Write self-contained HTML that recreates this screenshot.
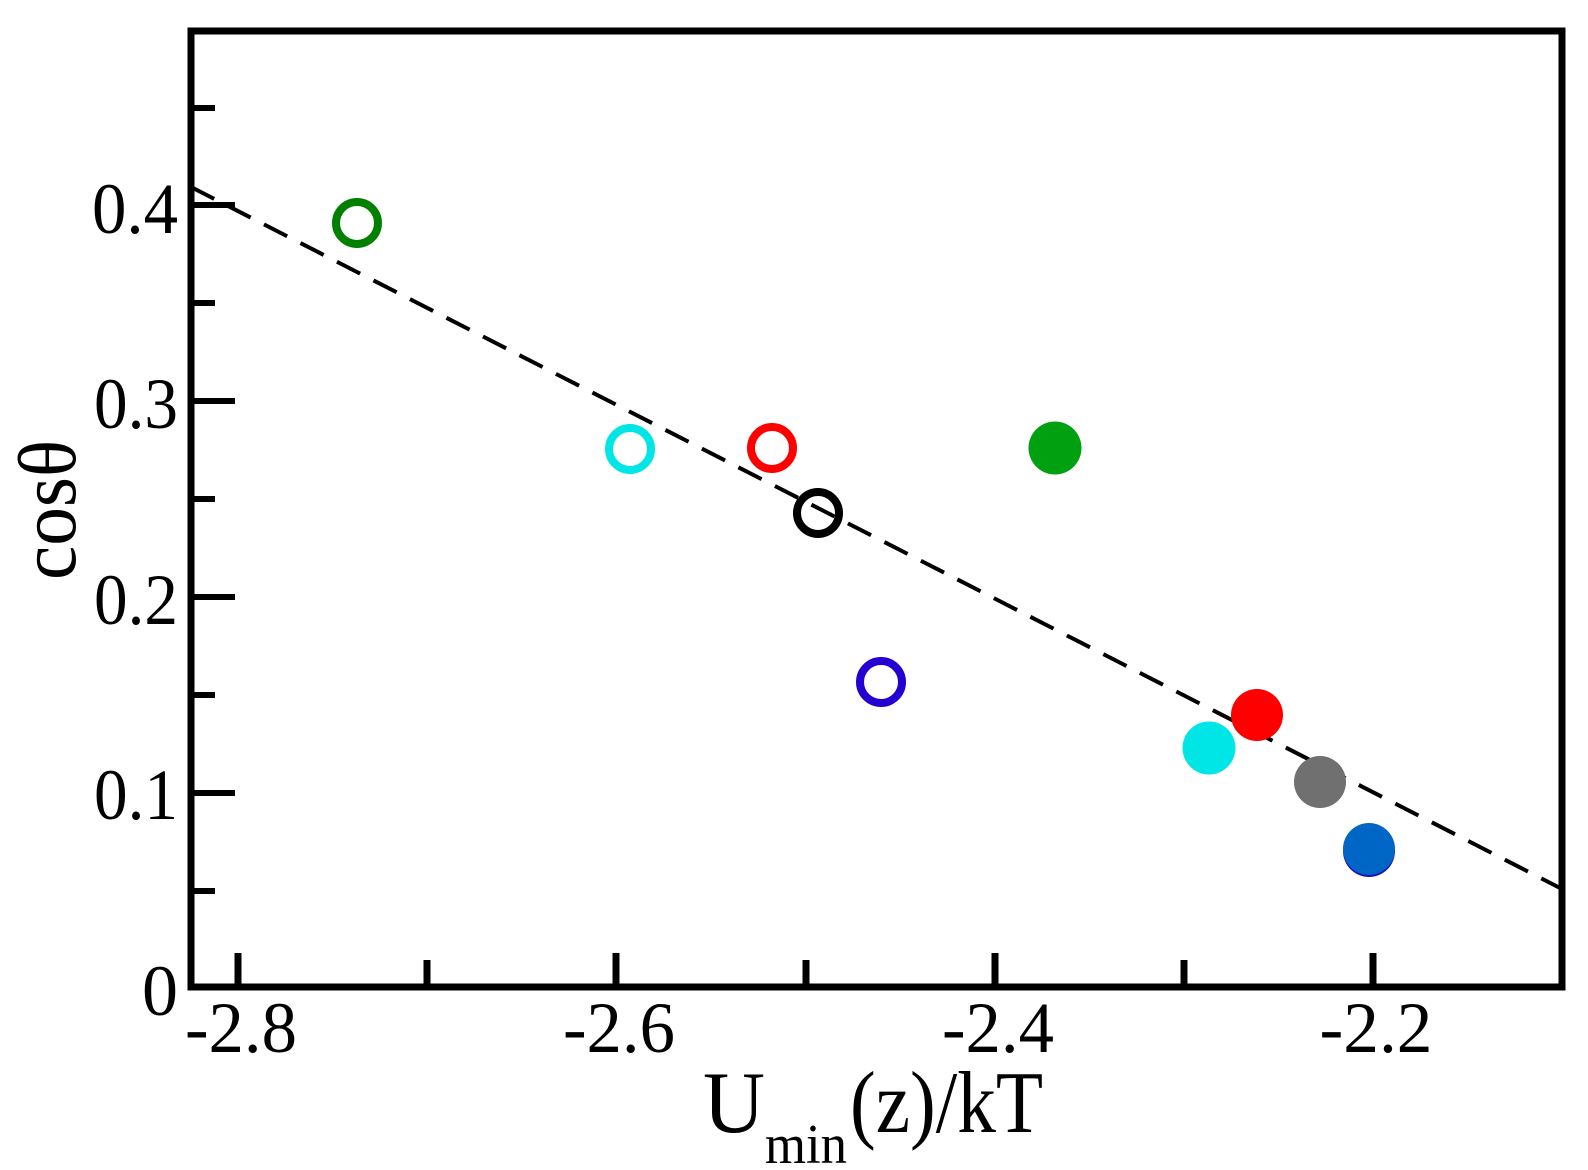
<!DOCTYPE html>
<html>
<head>
<meta charset="utf-8">
<style>
html,body{margin:0;padding:0;background:#fff;}
svg{display:block;}
text{font-family:"Liberation Serif","DejaVu Serif",serif;fill:#000;}
</style>
</head>
<body>
<svg width="1588" height="1170" viewBox="0 0 1588 1170" xmlns="http://www.w3.org/2000/svg">
  <rect x="0" y="0" width="1588" height="1170" fill="#fff"/>

  <!-- dashed fit line -->
  <line x1="191" y1="187" x2="1562" y2="889" stroke="#000" stroke-width="4" stroke-dasharray="26 15"/>

  <!-- y ticks (inside) -->
  <g stroke="#000" stroke-width="6">
    <line x1="191" y1="793" x2="235" y2="793"/>
    <line x1="191" y1="597" x2="235" y2="597"/>
    <line x1="191" y1="401" x2="235" y2="401"/>
    <line x1="191" y1="205" x2="235" y2="205"/>
    <line x1="191" y1="891" x2="215" y2="891"/>
    <line x1="191" y1="695" x2="215" y2="695"/>
    <line x1="191" y1="499" x2="215" y2="499"/>
    <line x1="191" y1="303" x2="215" y2="303"/>
    <line x1="191" y1="108" x2="215" y2="108"/>
  </g>

  <!-- x ticks (inside) -->
  <g stroke="#000" stroke-width="7">
    <line x1="238" y1="987" x2="238" y2="953"/>
    <line x1="427" y1="987" x2="427" y2="960"/>
    <line x1="616" y1="987" x2="616" y2="953"/>
    <line x1="806" y1="987" x2="806" y2="960"/>
    <line x1="995" y1="987" x2="995" y2="953"/>
    <line x1="1184" y1="987" x2="1184" y2="960"/>
    <line x1="1373" y1="987" x2="1373" y2="953"/>
  </g>

  <!-- frame -->
  <rect x="191" y="31" width="1371" height="956" fill="none" stroke="#000" stroke-width="7"/>

  <!-- open markers -->
  <g fill="none" stroke-width="8">
    <circle cx="357" cy="223" r="21" stroke="#008000"/>
    <circle cx="630" cy="449" r="21" stroke="#00e6e6"/>
    <circle cx="772" cy="448" r="21" stroke="#ff0000"/>
    <circle cx="818" cy="513" r="21" stroke="#000000"/>
    <circle cx="881" cy="682" r="21" stroke="#2400d2"/>
  </g>

  <!-- filled markers -->
  <circle cx="1055" cy="448" r="26.5" fill="#00a010"/>
  <circle cx="1257" cy="715" r="26" fill="#ff0000"/>
  <circle cx="1209" cy="748" r="26.5" fill="#00e5e5"/>
  <circle cx="1320" cy="782" r="26" fill="#707070"/>
  <circle cx="1369" cy="851" r="26" fill="#1a10c0"/>
  <circle cx="1369" cy="849" r="26" fill="#0066c6"/>

  <!-- y tick labels -->
  <g font-size="72" text-anchor="end">
    <text x="178" y="1015">0</text>
    <text x="178" y="819" textLength="84" lengthAdjust="spacingAndGlyphs">0.1</text>
    <text x="178" y="624" textLength="84" lengthAdjust="spacingAndGlyphs">0.2</text>
    <text x="178" y="428" textLength="84" lengthAdjust="spacingAndGlyphs">0.3</text>
    <text x="178" y="233" textLength="86" lengthAdjust="spacingAndGlyphs">0.4</text>
  </g>

  <!-- x tick labels -->
  <g font-size="72" text-anchor="middle">
    <text x="241" y="1052" textLength="112" lengthAdjust="spacingAndGlyphs">-2.8</text>
    <text x="619" y="1052" textLength="112" lengthAdjust="spacingAndGlyphs">-2.6</text>
    <text x="998" y="1052" textLength="112" lengthAdjust="spacingAndGlyphs">-2.4</text>
    <text x="1376" y="1052" textLength="113" lengthAdjust="spacingAndGlyphs">-2.2</text>
  </g>

  <!-- x axis label -->
  <text x="703" y="1132" font-size="88" textLength="62" lengthAdjust="spacingAndGlyphs">U</text>
  <text x="765" y="1163" font-size="56" textLength="82" lengthAdjust="spacingAndGlyphs">min</text>
  <text x="850" y="1132" font-size="88" textLength="193" lengthAdjust="spacingAndGlyphs">(z)/kT</text>

  <!-- y axis label -->
  <text x="0" y="0" font-size="82" text-anchor="middle" textLength="140" lengthAdjust="spacingAndGlyphs" transform="translate(75,510) rotate(-90)">cosθ</text>
</svg>
</body>
</html>
